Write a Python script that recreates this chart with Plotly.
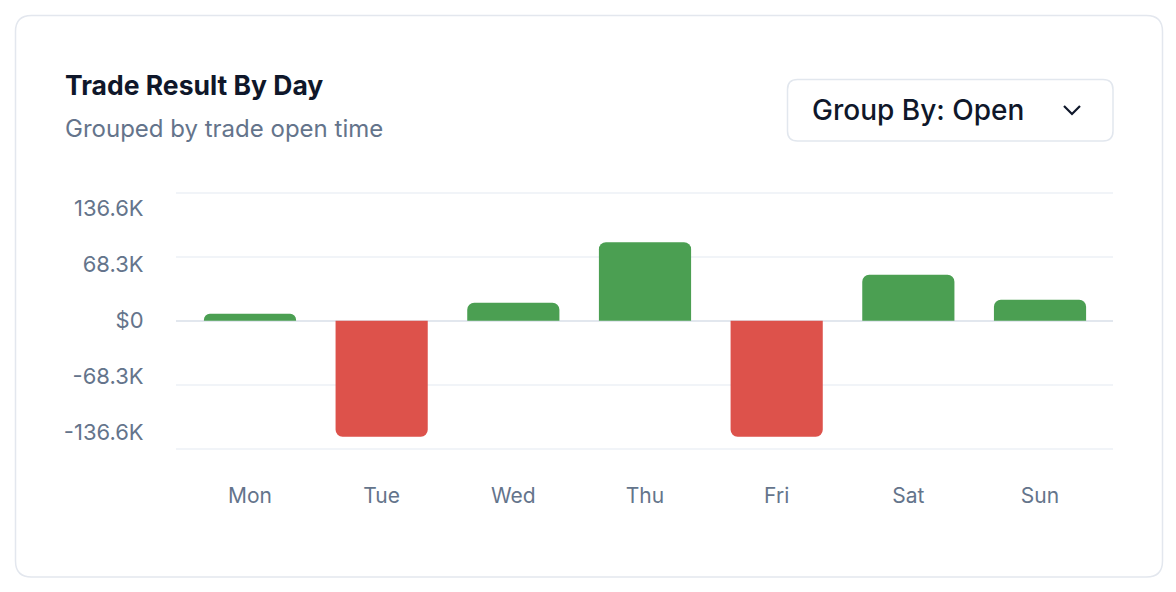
import plotly.graph_objects as go

# ---- data ----
days = ["Mon", "Tue", "Wed", "Thu", "Fri", "Sat", "Sun"]
results = [8500, -141500, 22000, 95700, -141500, 56100, 25600]
label_vals = [136600, 68300, 0, -68300, -136600]
label_text = ["136.6K", "68.3K", "$0", "-68.3K", "-136.6K"]
grid_vals = [156100, 78050, 0, -78050, -156100]

W, H = 1176, 592
GREEN = "#4b9f52"
RED = "#dd524b"
TICK = "#64748b"
FONT = "Inter"

def px(x):
    return x / W

def py(y):
    return 1 - y / H

# plot area in pixels
x0p, x1p = 176, 1113
y_top, y_bot, y_zero = 186, 456, 320.7
scale = 68300 / 56.0  # value per pixel
yr = [-(y_bot - y_zero) * scale, (y_zero - y_top) * scale]
unit = 131.7
xr = [-(250 - x0p) / unit, 6 + (x1p - 1040) / unit]

colors = [GREEN if v >= 0 else RED for v in results]

fig = go.Figure()
fig.add_trace(go.Bar(
    x=list(range(len(days))), y=results,
    marker=dict(color=colors, line=dict(width=0), cornerradius=7),
    width=0.70, hoverinfo="skip", showlegend=False,
))
# invisible trace for label axis
fig.add_trace(go.Scatter(x=[0], y=[0], yaxis="y2", mode="markers",
                         marker=dict(opacity=0), hoverinfo="skip", showlegend=False))

fig.update_layout(
    width=W, height=H,
    margin=dict(l=0, r=0, t=0, b=0),
    paper_bgcolor="white", plot_bgcolor="rgba(0,0,0,0)",
    font=dict(family=FONT, color=TICK, size=21),
    xaxis=dict(domain=[px(x0p), px(x1p)], range=xr,
               tickvals=list(range(len(days))), ticktext=days,
               showgrid=False, zeroline=False, showline=False,
               ticks="outside", ticklen=21, tickcolor="rgba(0,0,0,0)",
               tickfont=dict(family=FONT, size=21, color=TICK), fixedrange=True),
    yaxis=dict(domain=[py(y_bot), py(y_top)], range=yr,
               tickvals=grid_vals, showticklabels=False,
               showgrid=True, gridcolor="#f1f4f8", gridwidth=1.5,
               zeroline=True, zerolinecolor="#e2e7ee", zerolinewidth=2,
               showline=False, ticks="", fixedrange=True),
    yaxis2=dict(domain=[py(y_bot), py(y_top)], range=yr, overlaying="y", side="left",
                anchor="x", tickvals=label_vals, ticktext=label_text,
                showgrid=False, zeroline=False, showline=False,
                ticks="outside", ticklen=27, tickcolor="rgba(0,0,0,0)",
                tickfont=dict(family=FONT, size=22, color=TICK), fixedrange=True),
    bargap=0.3,
)

def rrect(xa, ya, xb, yb, r):
    rx, ry = r / W, r / H
    X0, X1 = px(xa), px(xb)
    Y0, Y1 = py(ya), py(yb)  # Y0 top (larger), Y1 bottom
    return (f"M {X0+rx},{Y0} L {X1-rx},{Y0} Q {X1},{Y0} {X1},{Y0-ry} "
            f"L {X1},{Y1+ry} Q {X1},{Y1} {X1-rx},{Y1} L {X0+rx},{Y1} "
            f"Q {X0},{Y1} {X0},{Y1+ry} L {X0},{Y0-ry} Q {X0},{Y0} {X0+rx},{Y0} Z")

shapes = [
    dict(type="path", xref="paper", yref="paper", path=rrect(15.5, 15.5, 1162.5, 577, 16),
         line=dict(color="#e3e7ee", width=1.5), fillcolor="rgba(0,0,0,0)", layer="below"),
    dict(type="path", xref="paper", yref="paper", path=rrect(787.5, 79.5, 1113, 141, 10),
         line=dict(color="#e2e7ee", width=1.5), fillcolor="white", layer="below"),
    dict(type="path", xref="paper", yref="paper",
         path=f"M {px(1064)},{py(106)} L {px(1072)},{py(114)} L {px(1080)},{py(106)}",
         line=dict(color="#0f172a", width=2.2)),
]

annotations = [
    dict(text="Trade Result By Day", x=px(63), y=py(85), xref="paper", yref="paper",
         xanchor="left", yanchor="middle", showarrow=False,
         font=dict(family=FONT, size=26.5, color="#0f172a", weight=700)),
    dict(text="Grouped by trade open time", x=px(63), y=py(128), xref="paper", yref="paper",
         xanchor="left", yanchor="middle", showarrow=False,
         font=dict(family=FONT, size=24, color=TICK)),
    dict(text="Group By: Open", x=px(810), y=py(110), xref="paper", yref="paper",
         xanchor="left", yanchor="middle", showarrow=False,
         font=dict(family=FONT, size=28, color="#0f172a", weight=500)),
]
fig.update_layout(shapes=shapes, annotations=annotations)

fig.write_html("out.html", config={"displayModeBar": False},
               post_script="document.body.style.margin='0px';")
